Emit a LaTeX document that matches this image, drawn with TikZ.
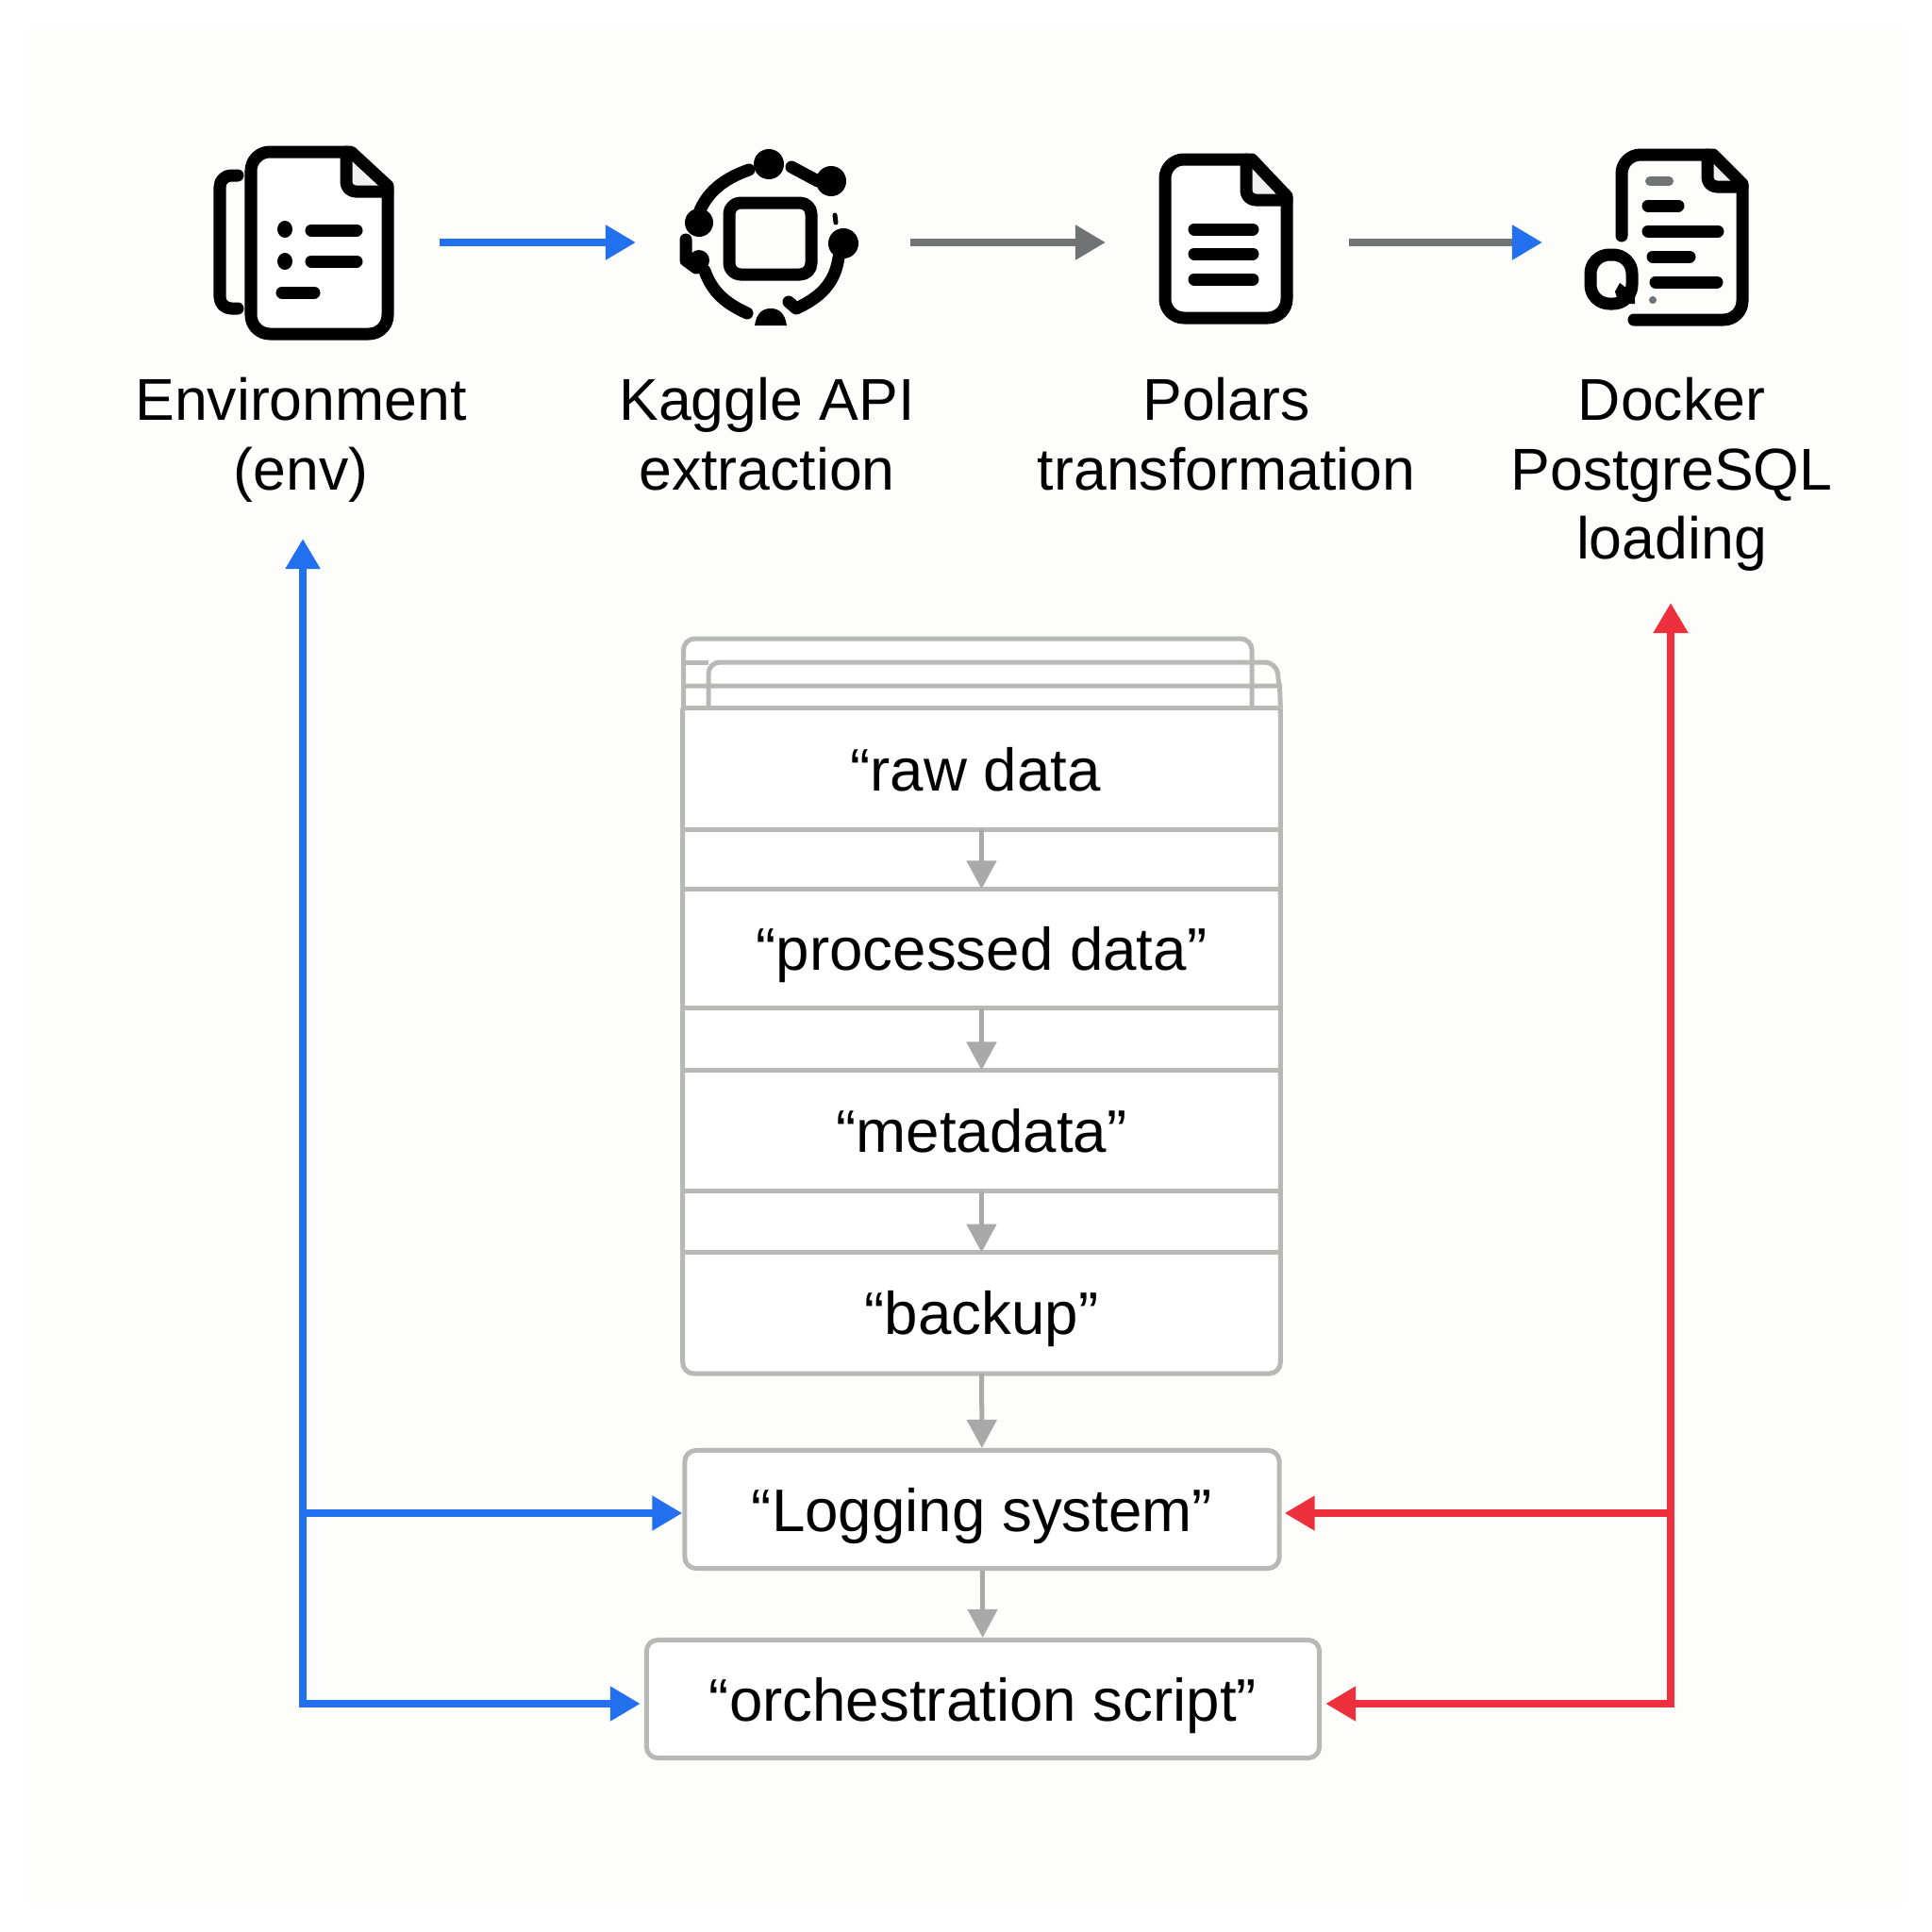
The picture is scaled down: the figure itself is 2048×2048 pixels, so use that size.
\documentclass[tikz,border=0pt]{standalone}
\usepackage{fontspec}
\setmainfont{Liberation Sans}
\usetikzlibrary{positioning,arrows.meta}
\definecolor{pagetint}{HTML}{FDFDFB}
\definecolor{flowblue}{HTML}{2370EE}
\definecolor{flowred}{HTML}{EE2F3C}
\definecolor{flowgrey}{HTML}{6F7374}
\definecolor{stackgrey}{HTML}{B7B9B7}
\definecolor{tipgrey}{HTML}{A9A9A9}
\definecolor{foldgrey}{HTML}{EFEFEF}
\tikzset{
  every node/.style={
    inner sep=0pt,
    text=black
  },
  biglabel/.style={
    align=center,
    font=\fontsize{17.8}{20.9}\selectfont
  },
  boxtext/.style={
    font=\fontsize{18.1}{21}\selectfont,
    text height=0.46cm,
    text depth=0cm
  },
  cell/.style={
    boxtext,
    minimum width=6.32cm,
    minimum height=1.27cm
  },
  framed/.style={
    boxtext,
    draw=stackgrey,
    line width=0.05cm,
    fill=white,
    rounded corners=0.12cm,
    minimum height=1.25cm
  },
  stackline/.style={
    draw=stackgrey,
    line width=0.05cm
  },
  iconline/.style={
    line width=0.13cm,
    line cap=round,
    line join=round
  },
  flow/.style={
    line width=0.085cm,
    -{Triangle[length=0.32cm,width=0.35cm]}
  },
  flowboth/.style={
    line width=0.085cm,
    {Triangle[length=0.32cm,width=0.35cm]}-{Triangle[length=0.32cm,width=0.35cm]}
  },
  down/.style={
    draw=tipgrey,
    line width=0.05cm,
    -{Triangle[length=0.3cm,width=0.31cm]}
  }
}

\begin{document}
\begin{tikzpicture}[x=0.01cm,y=-0.01cm]
      \useasboundingbox (0,0) rectangle (2048,2048);
      \fill[white] (0,0) rectangle (2048,2048);
      \fill[pagetint] (30,30) rectangle (2018,2018);

      % icons
      \draw[iconline,rounded corners=0.12cm] (252,186) -- (233,186) -- (233,327) -- (252,327);
      \draw[iconline,fill=white] (372,161) [rounded corners=0.2cm] -- (266,161) -- (266,354) -- (411,354) -- (411,280) [sharp corners] -- (411,197) -- cycle;
      \fill[foldgrey] (374,172) -- (374,197) -- (396,197) -- cycle;
      \draw[iconline,rounded corners=0.1cm] (367,161) -- (367,203) -- (411,203);
      \fill (302,243) ellipse[x radius=0.08cm,y radius=0.09cm] (302,277) ellipse[x radius=0.08cm,y radius=0.09cm];
      \draw[iconline] (330,244) -- (378,244) (330,277) -- (378,277) (299,310) -- (333,310);

      \draw[iconline,rounded corners=0.12cm] (773,215) rectangle (860,291);
      \fill (815,174) circle[radius=0.16cm] (881,192) circle[radius=0.16cm] (894,258) circle[radius=0.16cm] (741,236) circle[radius=0.15cm];
      \draw[iconline] (794,180) .. controls (765,190) and (750,205) .. (742,223);
      \draw[iconline] (839,177) -- (867,192);
      \draw[iconline] (727,254) -- (727,276) -- (738,284);
      \fill (741,276) circle[radius=0.11cm];
      \draw[iconline] (747,287) .. controls (755,310) and (770,322) .. (792,332);
      \draw[iconline] (889,273) .. controls (885,300) and (870,315) .. (844,327) -- (836,320);
      \draw[line width=0.05cm,line cap=round] (885,228) -- (886,236);
      \fill (800,345) .. controls (802,332) and (808,327) .. (817,327) .. controls (826,327) and (832,332) .. (834,345) -- cycle;

      \draw[iconline,fill=white] (1327,169) [rounded corners=0.2cm] -- (1235,169) -- (1235,337) -- (1364,337) -- (1364,280) [sharp corners] -- (1364,208) -- cycle;
      \fill[foldgrey] (1328,180) -- (1328,205) -- (1350,205) -- cycle;
      \draw[iconline,rounded corners=0.1cm] (1321,169) -- (1321,212) -- (1364,212);
      \draw[iconline] (1266,243) -- (1328,243) (1266,269) -- (1328,269) (1266,296) -- (1328,296);

      \draw[iconline] (1719,250) [rounded corners=0.2cm] -- (1719,164) [sharp corners] -- (1816,164) -- (1847,195) [rounded corners=0.2cm] -- (1847,339) -- (1732,339);
      \fill[foldgrey] (1816,175) -- (1816,192) -- (1834,192) -- cycle;
      \draw[iconline,rounded corners=0.1cm] (1810,164) -- (1810,198) -- (1847,198);
      \draw[line width=0.1cm,line cap=round,draw=flowgrey] (1749,192) -- (1769,192);
      \draw[iconline] (1747,218) -- (1779,218) (1747,245) -- (1821,245) (1752,272) -- (1791,272) (1755,299) -- (1820,299);
      \fill[flowgrey] (1752,318) circle[radius=0.04cm];
      \draw[iconline,rounded corners=0.2cm] (1686,270) rectangle (1730,322);
      \fill (1717,300) -- (1712,309) -- (1716,322) -- (1733,322) -- (1733,312) -- cycle;

      % labels
      \node[biglabel,anchor=north] (env) at (319,399.5) {Environment\\(env)};
      \node[biglabel,anchor=north] (kaggle) at (813,399.5) {Kaggle API\\extraction};
      \node[biglabel,anchor=north] (polars) at (1300,399.5) {Polars\\transformation};
      \node[biglabel,anchor=north] (docker) at (1772,399.5) {Docker\\PostgreSQL\\loading};

      % stack
      \fill[white] (724.5,677) rectangle (1327,727) (724.5,727) rectangle (1356.5,1456);
      \node[cell] (raw) at (1040.5,815) {“raw data\kern0.13cm};
      \node[on grid,cell,minimum height=1.25cm,below=1.905cm of raw] (processed) {“processed data”};
      \node[on grid,cell,below=1.93cm of processed] (metadata) {“metadata”};
      \node[on grid,cell,below=1.93cm of metadata] (backup) {“backup”};
      \draw[stackline,rounded corners=0.12cm] (raw.north west) -- (backup.south west) -- (backup.south east) -- (raw.north east);
      \foreach \cellname in {raw,processed,metadata}
        \draw[stackline] (\cellname.south west) -- (\cellname.south east);
      \foreach \cellname in {raw,processed,metadata,backup}
        \draw[stackline] (\cellname.north west) -- (\cellname.north east);
      \draw[stackline,rounded corners=0.12cm] (724.5,752) -- (724.5,677) -- (1327,677) -- (1327,752);
      \draw[stackline,rounded corners=0.12cm] (751,752) -- (751,702) -- (1353,702) -- (1356,727);
      \draw[stackline] (724.5,702) -- (751,702);
      \draw[stackline] (724.5,727) -- (1356.5,727) -- (raw.north east);

      \node[framed,minimum width=6.3cm] (logging) at (1041,1600) {“Logging system”};
      \node[framed,minimum width=7.13cm] (orchestration) at (1042,1801) {“orchestration script”};

      \draw[down] (raw) -- (processed);
      \draw[down] (processed) -- (metadata);
      \draw[down] (metadata) -- (backup);
      \draw[down] (backup) -- (logging);
      \draw[down] (logging) -- (orchestration);

      % top row
      \coordinate (envout) at (466,257);
      \coordinate (kagglein) at (674,257);
      \coordinate (kaggleout) at (965,257);
      \coordinate (polarsin) at (1172,257);
      \coordinate (polarsout) at (1430,257);
      \coordinate (dockerin) at (1635,257);
      \draw[flow,flowblue] (envout) -- (kagglein);
      \draw[flow,flowgrey] (kaggleout) -- (polarsin);
      \draw[flow,flowgrey,-{Triangle[length=0.32cm,width=0.35cm,flowblue]}] (polarsout) -- (dockerin);

      % feedback
      \coordinate (bluecorner) at (321,1806);
      \coordinate (bluejoin) at (321,1604);
      \coordinate (envtip) at (321,571);
      \coordinate (redcorner) at (1771,1806);
      \coordinate (redjoin) at (1771,1604);
      \coordinate (dockertip) at (1771,639);
      \draw[flowboth,flowblue,shorten >=0.04cm] (envtip) -- (bluecorner) -- (bluecorner -| orchestration.west);
      \draw[flow,flowblue] (bluejoin) -- (bluejoin -| logging.west);
      \draw[flowboth,flowred,shorten >=0.04cm] (dockertip) -- (redcorner) -- (redcorner -| orchestration.east);
      \draw[flow,flowred,shorten >=0.03cm] (redjoin) -- (redjoin -| logging.east);
    \end{tikzpicture}
\end{document}
